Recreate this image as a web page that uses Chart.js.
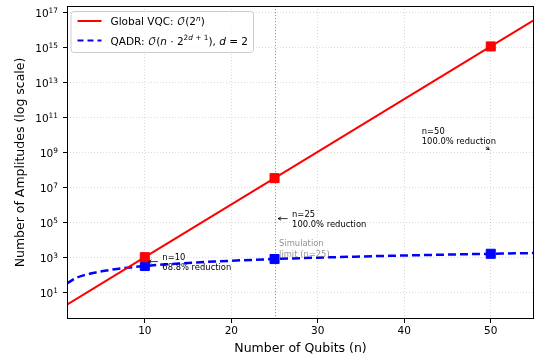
<!DOCTYPE html>
<html>
<head>
<meta charset="utf-8">
<script src="https://cdn.jsdelivr.net/npm/chart.js@4"></script>
<style>
  body { margin: 0; background: #fff; }
  canvas { display: block; }
</style>
</head>
<body>
<canvas id="chart" width="537" height="360"></canvas>
<script>
// curve samples (number of qubits -> amplitudes)
const vqcQubits = [1, 10, 25, 50, 55];
const vqcAmps = [2, 1024, 33554432, 1125899906842624, 36028797018963968];
const qadrQubits = [1, 2, 3, 4, 5, 6, 7, 8, 9, 10, 12, 14, 16, 18, 20, 25, 30, 35, 40, 45, 50, 55];
const qadrAmps = [32, 64, 96, 128, 160, 192, 224, 256, 288, 320, 384, 448, 512, 576, 640, 800, 960, 1120, 1280, 1440, 1600, 1760];

// highlighted points
const markQubits = [10, 25, 50];
const markVqc = [1024, 33554432, 1125899906842624];
const markQadr = [320, 800, 1600];
const reductions = ["68.8%", "100.0%", "100.0%"];
const simLimit = 25;

const xTicks = [10, 20, 30, 40, 50];
const yExponents = [1, 3, 5, 7, 9, 11, 13, 15, 17];

const FONT = '"DejaVu Sans", "DejaVu Math TeX Gyre", sans-serif';

function pts(xs, ys) {
    return xs.map((x, i) => ({ x: x, y: ys[i] }));
}

// draw a line of text made of runs (italic / superscript parts)
function drawRuns(ctx, x, y, runs, size) {
    for (const r of runs) {
        const fs = r.sup ? size * 0.7 : size;
        ctx.font = (r.it ? "italic " : "") + fs + "px " + FONT;
        ctx.fillText(r.t, x, r.sup ? y - size * 0.4 : y);
        x += ctx.measureText(r.t).width;
    }
    return x;
}

function arrow(ctx, x1, y1, x2, y2) {
    const a = Math.atan2(y2 - y1, x2 - x1);
    const h = 3.5;
    ctx.beginPath();
    ctx.moveTo(x1, y1);
    ctx.lineTo(x2, y2);
    ctx.moveTo(x2 - h * Math.cos(a - 0.5), y2 - h * Math.sin(a - 0.5));
    ctx.lineTo(x2, y2);
    ctx.lineTo(x2 - h * Math.cos(a + 0.5), y2 - h * Math.sin(a + 0.5));
    ctx.stroke();
}

const legendItems = [
    { color: "#ff0000", dash: [], runs: [
        { t: "Global VQC: " }, { t: "\u{1D4AA}" }, { t: "(2" }, { t: "n", it: true, sup: true }, { t: ")" }
    ] },
    { color: "#0000ff", dash: [6, 4], runs: [
        { t: "QADR: " }, { t: "\u{1D4AA}" }, { t: "(" }, { t: "n", it: true }, { t: " \u00B7 2" },
        { t: "2", sup: true }, { t: "d", it: true, sup: true }, { t: " + 1", sup: true },
        { t: "), " }, { t: "d", it: true }, { t: " = 2" }
    ] }
];

const extras = {
    id: "extras",
    beforeDatasetsDraw(chart) {
        const { ctx, chartArea: a, scales: { x } } = chart;
        const px = x.getPixelForValue(simLimit);
        ctx.save();
        ctx.strokeStyle = "rgba(128,128,128,0.8)";
        ctx.lineWidth = 1;
        ctx.setLineDash([1.2, 1.8]);
        ctx.beginPath();
        ctx.moveTo(Math.round(px) + 0.5, a.top);
        ctx.lineTo(Math.round(px) + 0.5, a.bottom);
        ctx.stroke();
        ctx.restore();
    },
    afterDraw(chart) {
        const { ctx, chartArea: a, scales: { x, y } } = chart;
        ctx.save();

        // frame
        ctx.strokeStyle = "#000";
        ctx.lineWidth = 1;
        ctx.strokeRect(a.left + 0.5, a.top + 0.5, a.right - a.left - 1, a.bottom - a.top - 1);

        // y tick labels 10^k
        ctx.fillStyle = "#000";
        ctx.textBaseline = "alphabetic";
        ctx.textAlign = "left";
        for (const k of yExponents) {
            const py = y.getPixelForValue(Math.pow(10, k));
            ctx.font = "7.4px " + FONT;
            const ew = ctx.measureText(String(k)).width;
            ctx.font = "10.5px " + FONT;
            const bw = ctx.measureText("10").width;
            const right = 58;
            ctx.fillText("10", right - ew - bw, py + 5);
            ctx.font = "7.4px " + FONT;
            ctx.fillText(String(k), right - ew, py + 1);
        }

        // axis titles
        ctx.font = "12.5px " + FONT;
        ctx.textAlign = "center";
        ctx.fillText("Number of Qubits (n)", (a.left + a.right) / 2, 352);
        ctx.save();
        ctx.translate(24, (a.top + a.bottom) / 2);
        ctx.rotate(-Math.PI / 2);
        ctx.fillText("Number of Amplitudes (log scale)", 0, 0);
        ctx.restore();

        // annotations
        ctx.textAlign = "left";
        ctx.font = "8.4px " + FONT;
        ctx.strokeStyle = "#000";
        ctx.lineWidth = 0.8;
        markQubits.forEach((n, i) => {
            const ax = x.getPixelForValue(n);
            const ay = y.getPixelForValue(Math.sqrt(markVqc[i] * markQadr[i]));
            let tx, ty;
            if (n < 40) {
                tx = ax + 17.5; ty = ay - 3.5;
                arrow(ctx, ax + 13, ay, ax + 3.5, ay);
            } else {
                tx = ax - 69; ty = ay - 18;
                arrow(ctx, ax - 5, ay - 3, ax - 1.5, ay - 0.5);
            }
            ctx.textBaseline = "middle";
            ctx.fillText("n=" + n, tx, ty);
            ctx.fillText(reductions[i] + " reduction", tx, ty + 9.8);
        });

        // simulation limit label
        ctx.fillStyle = "rgba(128,128,128,0.85)";
        const sx = x.getPixelForValue(simLimit) + 4.5;
        const sy = y.getPixelForValue(markQadr[1]);
        ctx.fillText("Simulation", sx, sy - 15);
        ctx.fillText("limit (n=" + simLimit + ")", sx, sy - 4.5);

        // legend
        ctx.textBaseline = "alphabetic";
        const lx = a.left + 3.5, ly = a.top + 5;
        ctx.font = "10.5px " + FONT;
        let maxEnd = 0;
        ctx.save();
        ctx.globalAlpha = 0;
        legendItems.forEach(it => { maxEnd = Math.max(maxEnd, drawRuns(ctx, lx + 40, 0, it.runs, 10.5)); });
        ctx.restore();
        ctx.fillStyle = "rgba(255,255,255,0.8)";
        ctx.strokeStyle = "#cccccc";
        ctx.lineWidth = 1;
        ctx.setLineDash([]);
        ctx.beginPath();
        ctx.roundRect(lx + 0.5, ly + 0.5, maxEnd + 5 - lx, 41, 3);
        ctx.fill();
        ctx.stroke();
        legendItems.forEach((it, i) => {
            const cy = ly + 10 + i * 19.5;
            ctx.strokeStyle = it.color;
            ctx.lineWidth = 2;
            ctx.setLineDash(it.dash);
            ctx.beginPath();
            ctx.moveTo(lx + 7, cy);
            ctx.lineTo(lx + 31, cy);
            ctx.stroke();
            ctx.setLineDash([]);
            ctx.fillStyle = "#000";
            drawRuns(ctx, lx + 40, cy + 4, it.runs, 10.5);
        });
        ctx.restore();
    }
};

const gridStyle = {
    color: "rgba(0,0,0,0.18)",
    lineWidth: 0.8,
    tickColor: "#000",
    tickLength: 4,
    tickWidth: 1,
    tickBorderDash: []
};

new Chart(document.getElementById("chart").getContext("2d"), {
    type: "line",
    data: {
        datasets: [
            {
                label: "Global VQC",
                data: pts(vqcQubits, vqcAmps),
                borderColor: "#ff0000",
                borderWidth: 2,
                pointRadius: 0,
                fill: false
            },
            {
                label: "QADR",
                data: pts(qadrQubits, qadrAmps),
                borderColor: "#0000ff",
                borderWidth: 2.5,
                borderDash: [8, 4],
                pointRadius: 0,
                cubicInterpolationMode: "monotone",
                fill: false
            },
            {
                label: "VQC points",
                data: pts(markQubits, markVqc),
                showLine: false,
                pointStyle: "rect",
                pointRadius: 6.4,
                backgroundColor: "#ff0000",
                borderColor: "#ff0000"
            },
            {
                label: "QADR points",
                data: pts(markQubits, markQadr),
                showLine: false,
                pointStyle: "rect",
                pointRadius: 6.4,
                backgroundColor: "#0000ff",
                borderColor: "#0000ff"
            }
        ]
    },
    options: {
        responsive: false,
        animation: false,
        devicePixelRatio: 1,
        layout: { autoPadding: false, padding: { left: 0, right: 3, top: 6, bottom: 0 } },
        plugins: {
            legend: { display: false },
            tooltip: { enabled: false }
        },
        scales: {
            x: {
                type: "linear",
                min: 1,
                max: 55,
                afterBuildTicks: s => { s.ticks = xTicks.map(v => ({ value: v })); },
                afterFit: s => { s.height = 41; },
                grid: gridStyle,
                border: { display: false, dash: [1, 2] },
                ticks: {
                    color: "#000",
                    padding: 2,
                    maxRotation: 0,
                    font: { family: "DejaVu Sans", size: 10.5 }
                }
            },
            y: {
                type: "logarithmic",
                min: 0.31,
                max: 2.3e17,
                afterBuildTicks: s => { s.ticks = yExponents.map(k => ({ value: Math.pow(10, k) })); },
                afterFit: s => { s.width = 67; },
                grid: gridStyle,
                border: { display: false, dash: [1, 2] },
                ticks: { display: false }
            }
        }
    },
    plugins: [extras]
});
</script>
</body>
</html>
